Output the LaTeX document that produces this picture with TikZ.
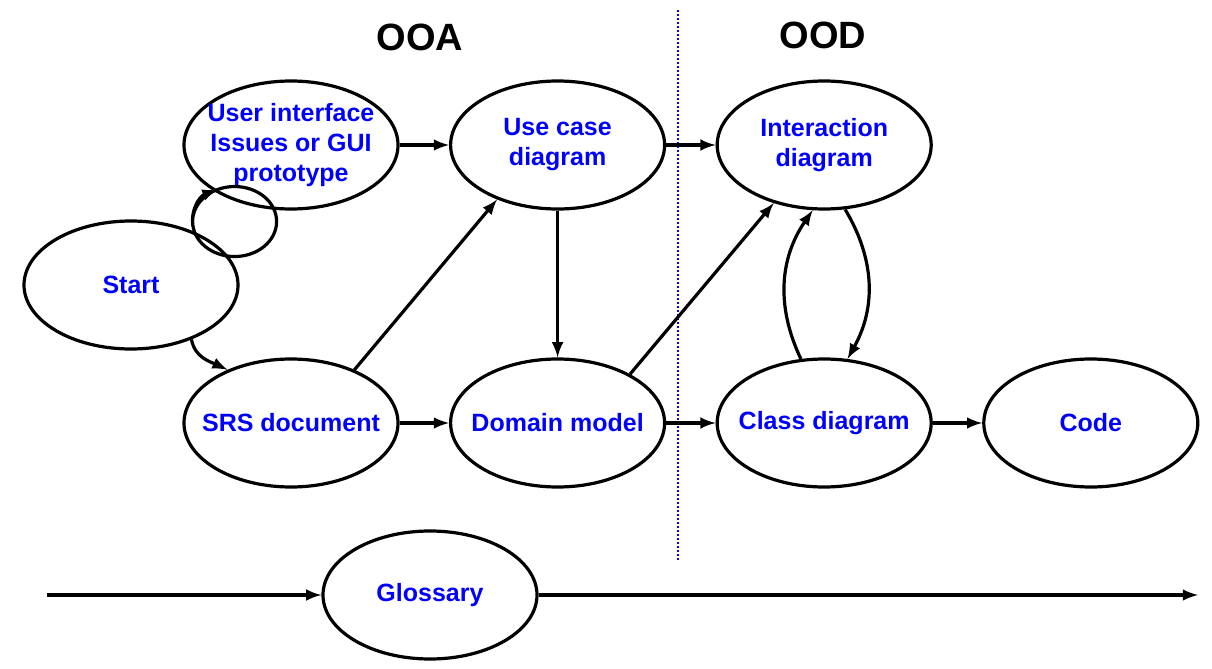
\documentclass[tikz,border=0pt]{standalone}
\usepackage{fontspec}
\setmainfont{Liberation Sans}
\usetikzlibrary{positioning,shapes.geometric}

\begin{document}
\begin{tikzpicture}[x=0.5pt,y=-0.5pt,node distance=133.3pt,>=latex,line width=1.6pt,
    phase/.style={ellipse,draw,minimum width=107pt,minimum height=64pt,inner xsep=-8pt,inner ysep=0pt,
        align=center,text=blue,font=\bfseries\fontsize{12.5}{15}\selectfont},
    title/.style={font=\bfseries\fontsize{19}{22}\selectfont}]
	\useasboundingbox (0,0) rectangle (1212,669);
	% Headings and the dividing line
	\node[title] (ooa) at (420,37) {OOA};
	\node[title] (ood) at (823,35) {OOD};
	\draw[blue,line width=1pt,dash pattern=on 1pt off 1pt] (678,10) -- (678,562);
	% Nodes for the top row
	\node[phase] (ui) at (291,145) {\fontsize{12.5}{13.5}\selectfont User interface\\Issues or GUI\\prototype};
	\node[phase] (usecase) [right of=ui] {Use case\\diagram};
	\node[phase] (inter) [right of=usecase] {Interaction\\diagram};
	% Nodes for the bottom row
	\node[phase] (start) at (131,285) {Start};
	\node[phase] (srs) [below of=ui, node distance=139pt] {SRS document};
	\node[phase] (domain) [right of=srs] {Domain model};
	\node[phase] (class) [right of=domain] {Class diagram};
	\node[phase] (code) [right of=class] {Code};
	\node[phase] (gloss) at (430,595) {Glossary};
	% Arrows
	\draw[->] (start.40) arc[start angle=163, end angle=606, x radius=42, y radius=35];
	\draw[->] (start.318) to[out=-80,in=155] (srs.140);
	\draw[->] (ui) -- (usecase);
	\draw[->] (usecase) -- (inter);
	\draw[->] (usecase) -- (domain);
	\draw[->] (srs.40) -- (usecase.222);
	\draw[->] (domain.34) -- (inter.229);
	\draw[->] (srs) -- (domain);
	\draw[->] (domain) -- (class);
	\draw[->] (class) -- (code);
	\draw[->] (class.110) to[bend left=30] (inter.260);
	\draw[->] (inter.288) to[bend left=30] (class.70);
	% Glossary line
	\coordinate (gl) at (47,595);
	\coordinate (gr) at (1198,595);
	\draw[->] (gl) -- (gloss);
	\draw[->] (gloss) -- (gr);
\end{tikzpicture}
\end{document}
